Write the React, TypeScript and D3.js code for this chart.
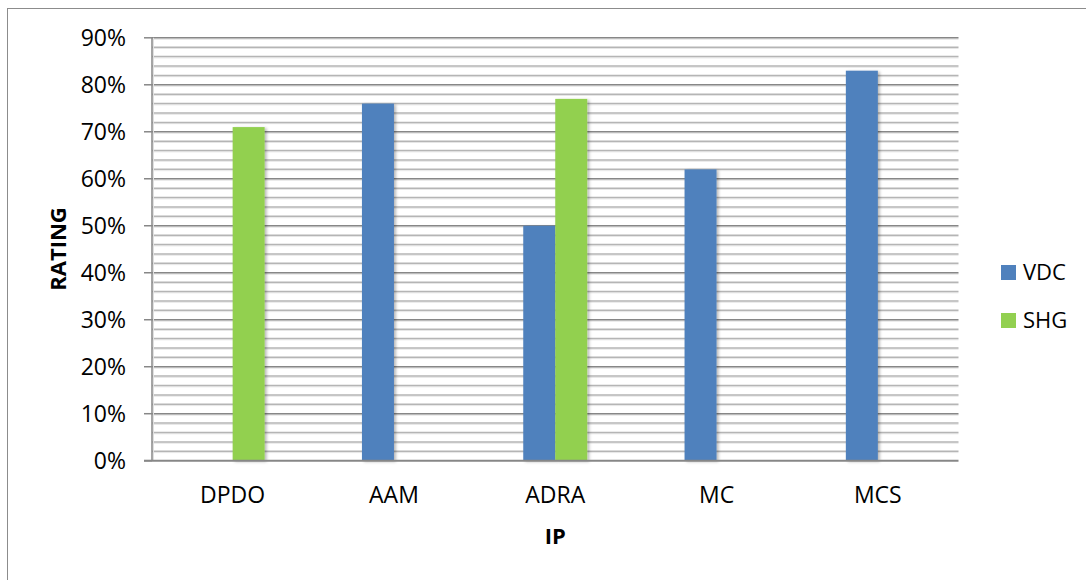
import React from "react";
import * as d3 from "d3";

// Ratings per implementing partner
const categories = ["DPDO", "AAM", "ADRA", "MC", "MCS"];
const seriesNames = ["VDC", "SHG"];
const vdcValues: (number | null)[] = [null, 0.76, 0.5, 0.62, 0.83];
const shgValues: (number | null)[] = [0.71, null, 0.77, null, null];
const yTicks = [0, 0.1, 0.2, 0.3, 0.4, 0.5, 0.6, 0.7, 0.8, 0.9];
const yMinorTicks = d3.range(0, 46).map((i) => i * 0.02);
const seriesColors = ["#4F81BD", "#92D050"];

const W = 1086;
const H = 580;
const plot = { left: 152, right: 958.5, top: 37.8, bottom: 460.7 };
const FONT = "'Open Sans', 'Noto Sans', sans-serif";

export default function App() {
  const x = d3
    .scaleBand<string>()
    .domain(categories)
    .range([plot.left, plot.right])
    .paddingInner(0)
    .paddingOuter(0);
  const inner = d3
    .scaleBand<string>()
    .domain(seriesNames)
    .range([0, 64]);
  const y = d3.scaleLinear().domain([0, 0.9]).range([plot.bottom, plot.top]);
  const fmt = d3.format(".0%");
  const series = [vdcValues, shgValues];

  const bars: React.ReactNode[] = [];
  series.forEach((vals, si) => {
    vals.forEach((v, ci) => {
      if (v == null) return;
      const cx = (x(categories[ci]) as number) + x.bandwidth() / 2;
      const bx = cx - 32 + (inner(seriesNames[si]) as number);
      bars.push(
        <rect
          key={`${si}-${ci}`}
          x={bx}
          y={y(v)}
          width={inner.bandwidth()}
          height={y(0) - y(v)}
          fill={seriesColors[si]}
          filter="url(#barShadow)"
        />
      );
    });
  });

  return (
    <svg
      width={W}
      height={H}
      style={{ position: "absolute", left: 0, top: 0, background: "#fff" }}
      fontFamily={FONT}
    >
      <defs>
        <filter id="barShadow" x="-20%" y="-5%" width="150%" height="115%">
          <feDropShadow dx="2" dy="1" stdDeviation="1.5" floodColor="#000" floodOpacity="0.28" />
        </filter>
      </defs>
      {/* chart frame */}
      <rect x={7.5} y={8.5} width={W + 10} height={H + 10} fill="#fff" stroke="#8c8c8c" strokeWidth={1} />

      {/* minor gridlines */}
      {yMinorTicks
        .filter((t) => Math.round(t * 100) % 10 !== 0)
        .map((t) => (
          <g key={`m${t}`}>
            <line x1={plot.left} x2={plot.right} y1={y(t) + 1.3} y2={y(t) + 1.3} stroke="#e6e6e6" strokeWidth={1} />
            <line x1={plot.left} x2={plot.right} y1={y(t)} y2={y(t)} stroke="#b5b5b5" strokeWidth={1.5} />
          </g>
        ))}
      {/* major gridlines */}
      {yTicks.slice(1).map((t) => (
        <g key={`M${t}`}>
          <line x1={plot.left} x2={plot.right} y1={y(t) + 1.3} y2={y(t) + 1.3} stroke="#dcdcdc" strokeWidth={1} />
          <line x1={plot.left} x2={plot.right} y1={y(t)} y2={y(t)} stroke="#878787" strokeWidth={1.5} />
        </g>
      ))}

      {/* value axis */}
      <line x1={plot.left + 1.5} x2={plot.left + 1.5} y1={plot.top} y2={plot.bottom} stroke="#e0e0e0" strokeWidth={1} />
      <line x1={plot.left} x2={plot.left} y1={plot.top} y2={plot.bottom} stroke="#878787" strokeWidth={1.5} />
      {yTicks.map((t) => (
        <g key={`t${t}`}>
          <line x1={plot.left - 8} x2={plot.left} y1={y(t)} y2={y(t)} stroke="#878787" strokeWidth={1.5} />
          <text x={126} y={y(t) + 8} textAnchor="end" fontSize={23} fill="#000">
            {fmt(t)}
          </text>
        </g>
      ))}

      {bars}

      {/* category axis */}
      <line x1={plot.left - 8} x2={plot.right} y1={plot.bottom} y2={plot.bottom} stroke="#878787" strokeWidth={2} />
      {categories.map((c) => (
        <text
          key={c}
          x={(x(c) as number) + x.bandwidth() / 2}
          y={503}
          textAnchor="middle"
          fontSize={23}
          fill="#000"
        >
          {c}
        </text>
      ))}

      {/* axis titles */}
      <text x={(plot.left + plot.right) / 2} y={544} textAnchor="middle" fontSize={22} fontWeight="bold" fill="#000">
        IP
      </text>
      <text
        transform={`translate(65.5,249) rotate(-90)`}
        textAnchor="middle"
        fontSize={22}
        fontWeight="bold"
        fill="#000"
      >
        RATING
      </text>

      {/* legend */}
      {seriesNames.map((s, i) => (
        <g key={s} transform={`translate(1001,${265 + i * 48})`}>
          <rect x={0} y={0} width={15} height={15} fill={seriesColors[i]} />
          <text x={22} y={15} fontSize={22} fill="#000">
            {s}
          </text>
        </g>
      ))}
    </svg>
  );
}
